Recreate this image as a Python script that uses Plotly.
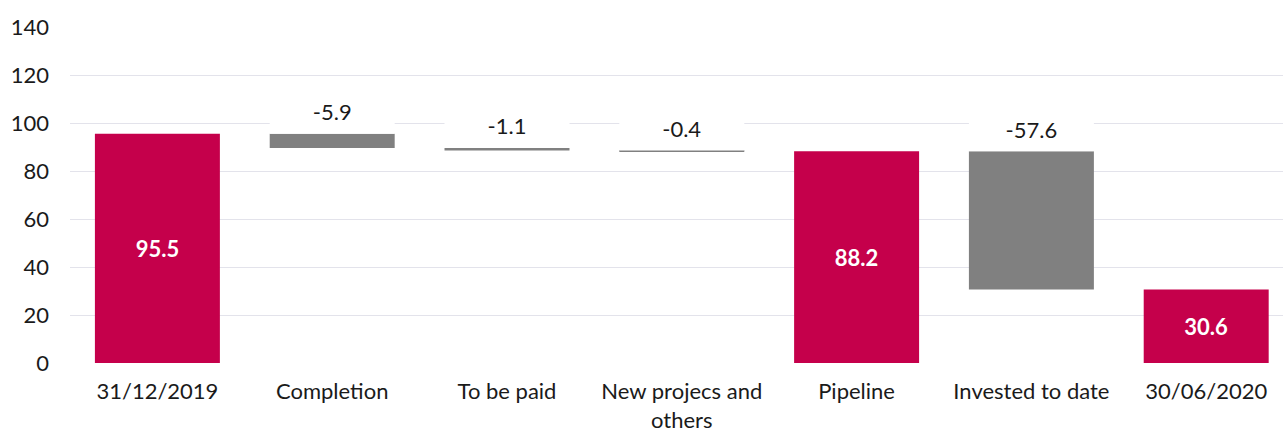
import plotly.graph_objects as go

# Waterfall data: opening balance, movements, intermediate total, closing balance
categories = [
    "31/12/2019",
    "Completion",
    "To be paid",
    "New projecs and<br>others",
    "Pipeline",
    "Invested to date",
    "30/06/2020",
]
kinds = ["total", "step", "step", "step", "total", "step", "total"]
values = [95.5, -5.9, -1.1, -0.4, 88.2, -57.6, 30.6]
y_ticks = [0, 20, 40, 60, 80, 100, 120, 140]

CRIMSON = "#C5004B"
GREY = "#808080"
GRID = "#E3E3EB"
TEXT = "#1A1A1A"
FONT = "Lato"
FS = 22
BAR_W = 0.715
LABEL_BAND = 18.4  # white band above each movement bar that holds its label

# Running level of the waterfall
total_x, total_y = [], []
step_x, step_base, step_h, step_top, step_txt = [], [], [], [], []
level = 0.0
for cat, kind, v in zip(categories, kinds, values):
    if kind == "total":
        level = v
        total_x.append(cat)
        total_y.append(v)
    else:
        top = level
        level = level + v
        step_x.append(cat)
        step_base.append(level)
        step_h.append(-v)
        step_top.append(top)
        step_txt.append(f"{v:.1f}")

fig = go.Figure()

fig.add_trace(go.Bar(
    x=total_x, y=total_y, width=BAR_W,
    marker=dict(color=CRIMSON, line=dict(width=0)),
    text=[f"{v:.1f}" for v in total_y],
    textposition="inside", insidetextanchor="middle",
    textfont=dict(family=FONT, size=FS, color="white", weight="bold"),
    textangle=0,
    hoverinfo="x+y",
))

fig.add_trace(go.Bar(
    x=step_x, y=step_h, base=step_base, width=BAR_W,
    marker=dict(color=GREY, line=dict(width=0)),
    hoverinfo="skip",
))

# Label band above each movement bar, carrying the movement value
fig.add_trace(go.Bar(
    x=step_x, y=[LABEL_BAND] * len(step_x), base=step_top, width=BAR_W,
    marker=dict(color="white", line=dict(width=0)),
    text=step_txt,
    textposition="inside", insidetextanchor="middle",
    textfont=dict(family=FONT, size=FS, color=TEXT),
    textangle=0,
    hoverinfo="skip",
))

fig.update_layout(
    width=1283, height=432,
    margin=dict(l=70, r=0, t=27, b=69),
    paper_bgcolor="white", plot_bgcolor="white",
    barmode="overlay",
    showlegend=False,
    font=dict(family=FONT, size=FS, color=TEXT),
)
fig.update_xaxes(
    type="category", categoryorder="array", categoryarray=categories,
    range=[-0.5, -0.5 + 1213 / 174.8],
    showgrid=False, showline=False, zeroline=False,
    ticks="", ticklabelstandoff=13,
    tickfont=dict(family=FONT, size=FS, color=TEXT),
)
fig.update_yaxes(
    range=[0, 140], tickvals=y_ticks,
    showgrid=True, gridcolor=GRID, gridwidth=1.3,
    showline=False, zeroline=False,
    ticks="", ticklabelstandoff=20,
    tickfont=dict(family=FONT, size=FS, color=TEXT),
)

fig.write_html("out.html")
